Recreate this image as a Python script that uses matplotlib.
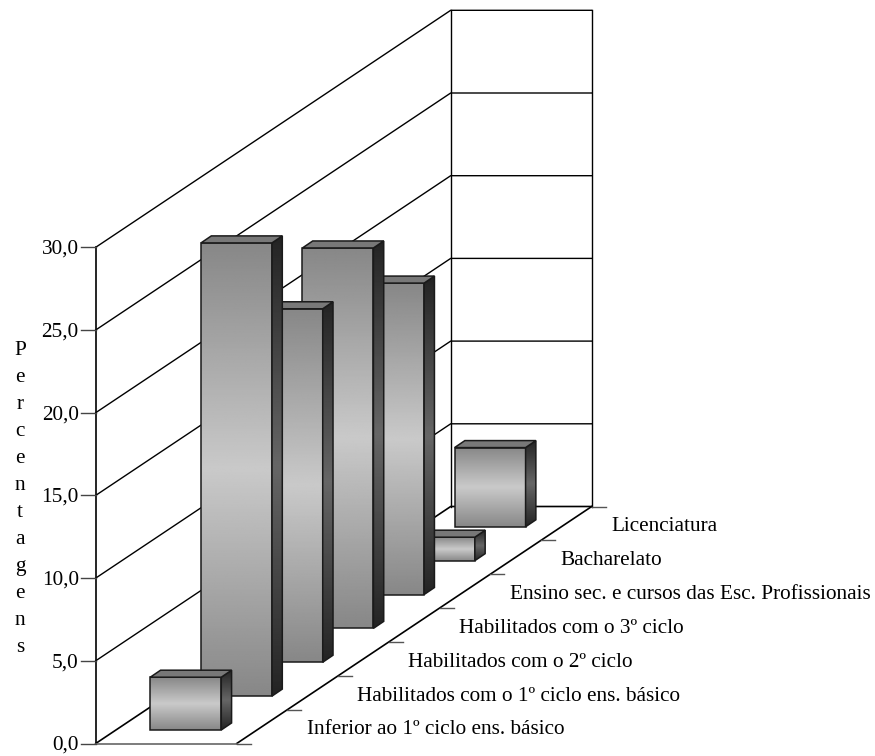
import numpy as np
import matplotlib
matplotlib.use('Agg')
import matplotlib.pyplot as plt
from matplotlib.patches import Polygon

plt.rcParams['font.family'] = ['Liberation Serif', 'DejaVu Serif']

#data
categories = ['Inferior ao 1º ciclo ens. básico',
              'Habilitados com o 1º ciclo ens. básico',
              'Habilitados com o 2º ciclo',
              'Habilitados com o 3º ciclo',
              'Ensino sec. e cursos das Esc. Profissionais',
              'Bacharelato',
              'Licenciatura']
values = [3.19, 27.4, 21.37, 23.0, 18.83, 1.42, 4.79]
y_ticks = [0, 5, 10, 15, 20, 25, 30]
y_label = 'Percentagens'

#projection (pixels of the picture)
x0, y0 = 95.7, 743.5
wall_w = 141
unit = 496.2 / 30
slot_dx = 355 / 7
slot_dy = 237 / 7
bar_left = 34.3
bar_w = 71
bar_start = 0.4
bar_dx, bar_dy = 10.3, 7
font = 15.3


def proj(w, d, v):
    # w: across the floor in px, d: depth in slots, v: value
    return x0 + w + d * slot_dx, y0 - d * slot_dy - v * unit


fig = plt.figure(figsize=(8.75, 7.56), dpi=100)
ax = fig.add_axes([0, 0, 1, 1])
ax.set_xlim(0, 875)
ax.set_ylim(756, 0)
ax.axis('off')

#walls and grid
n = len(categories)
top = y_ticks[-1]
for v in y_ticks[1:]:
    a, b, c = proj(0, 0, v), proj(0, n, v), proj(wall_w, n, v)
    ax.plot([a[0], b[0], c[0]], [a[1], b[1], c[1]], color='k', lw=1, zorder=1)
for w in [0, wall_w]:
    a, b = proj(w, n, 0), proj(w, n, top)
    ax.plot([a[0], b[0]], [a[1], b[1]], color='k', lw=1, zorder=1)
a, b = proj(0, 0, 0), proj(0, 0, top)
ax.plot([a[0], b[0]], [a[1], b[1]], color='k', lw=1.2, zorder=1)
a, b, c = proj(0, 0, 0), proj(0, n, 0), proj(wall_w, n, 0)
ax.plot([a[0], b[0], c[0]], [a[1], b[1], c[1]], color='k', lw=1.2, zorder=1)
a, b = proj(wall_w, 0, 0), proj(wall_w, n, 0)
ax.plot([a[0], b[0]], [a[1], b[1]], color='k', lw=1.2, zorder=1)
a, b = proj(0, 0, 0), proj(wall_w, 0, 0)
ax.plot([a[0], b[0]], [a[1], b[1]], color='#666666', lw=1.2, zorder=1)

#y ticks
for v in y_ticks:
    px, py = proj(0, 0, v)
    ax.plot([px - 15, px], [py, py], color='#444444', lw=1, zorder=1)
    ax.text(px - 17, py + 6.5, f'{v:.1f}'.replace('.', ','), ha='right', va='baseline', fontsize=font)

#category ticks and labels
for i in range(n + 1):
    px, py = proj(wall_w, i, 0)
    ax.plot([px, px + 14], [py, py], color='#555555', lw=1, zorder=1)
for i, name in enumerate(categories):
    px, py = proj(wall_w, i, 0)
    ax.text(px + 70, py - 9, name, ha='left', va='baseline', fontsize=font)

#y label stacked
ax.text(20, 499, '\n'.join(y_label), ha='center', va='center', fontsize=font, linespacing=1.57)


def shade(poly, lo, hi, ytop, ybot, z):
    # vertical gradient, light in the middle, clipped to the face
    t = np.abs(np.linspace(-1, 1, 256))[:, None]
    g = hi + (lo - hi) * t
    xs = [p[0] for p in poly]
    im = ax.imshow(g, cmap='gray', vmin=0, vmax=1, aspect='auto', zorder=z,
                   extent=(min(xs), max(xs), ybot, ytop), interpolation='bilinear')
    p = Polygon(poly, closed=True, fc='none', ec='#1a1a1a', lw=1.1, zorder=z + 0.1)
    ax.add_patch(p)
    im.set_clip_path(p)


#bars from back to front
for i in range(n - 1, -1, -1):
    v = values[i]
    z = 2 + (n - i)
    l, b = proj(bar_left, i + bar_start, 0)
    t = b - v * unit
    r = l + bar_w
    front = [(l, t), (r, t), (r, b), (l, b)]
    side = [(r, t), (r + bar_dx, t - bar_dy), (r + bar_dx, b - bar_dy), (r, b)]
    roof = [(l, t), (l + bar_dx, t - bar_dy), (r + bar_dx, t - bar_dy), (r, t)]
    shade(front, 0.53, 0.79, t, b, z)
    shade(side, 0.14, 0.40, t - bar_dy, b, z + 0.2)
    ax.add_patch(Polygon(roof, closed=True, fc='#787878', ec='#1a1a1a', lw=1.1, zorder=z + 0.4))

ax.set_xlim(0, 875)
ax.set_ylim(756, 0)
fig.savefig('out.png', dpi=100, facecolor='white')
